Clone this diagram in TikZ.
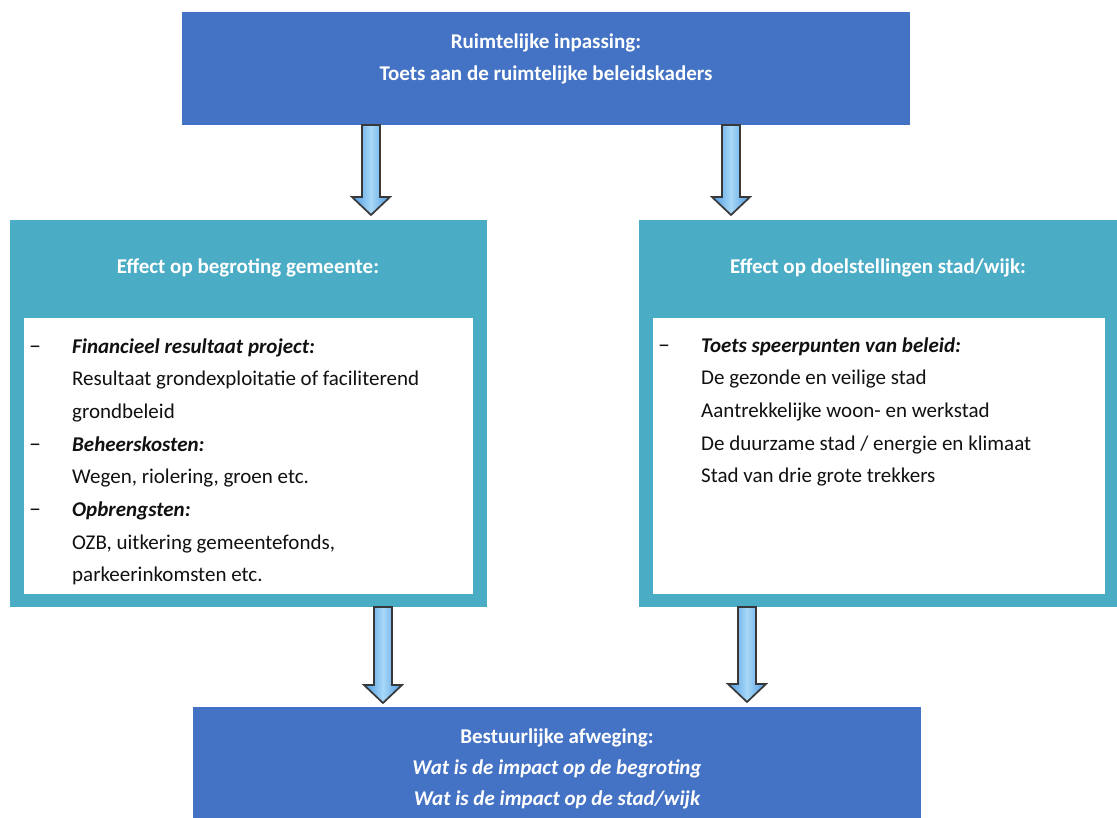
\documentclass[tikz,border=0pt]{standalone}
\usepackage{fontspec}
\setmainfont{Carlito}
\usetikzlibrary{calc}
\definecolor{dblue}{HTML}{4472C4}
\definecolor{tealbox}{HTML}{4BACC6}
\definecolor{arrowedge}{HTML}{383838}
\definecolor{arrowmid}{HTML}{A8D8F8}
\definecolor{arrowside}{HTML}{4A98E0}
\definecolor{txtdark}{HTML}{111111}
\newcommand\blkarrow[2]{%
  \path[blockarrow] let \p1=(#1), \p2=(#2) in
    (\x1-9pt,\y1) -- (\x1+9pt,\y1) -- (\x1+9pt,\y2+18pt) -- (\x1+19pt,\y2+18pt)
    -- (\x1,\y2) -- (\x1-19pt,\y2+18pt) -- (\x1-9pt,\y2+18pt) -- cycle;}
\tikzset{
  box/.style={draw=none, inner sep=0pt, outer sep=0pt, anchor=north west},
  bluebox/.style={box, fill=dblue},
  tealbg/.style={box, fill=tealbox},
  whitebg/.style={box, fill=white},
  hdr/.style={inner sep=0pt, anchor=base, text=white, font=\fontsize{21}{31}\selectfont\bfseries},
  hdrit/.style={hdr, font=\fontsize{21}{31}\selectfont\bfseries\itshape},
  itemdash/.style={inner sep=0pt, anchor=base west, text=txtdark, font=\fontsize{24}{32}\selectfont},
  itemhead/.style={inner sep=0pt, anchor=base west, text=txtdark, font=\fontsize{21}{32}\selectfont\bfseries\itshape},
  itemtxt/.style={inner sep=0pt, anchor=base west, text=txtdark, font=\fontsize{21}{32}\selectfont},
  blockarrow/.style={draw=arrowedge, line width=1.7pt, line join=miter,
    left color=arrowside, right color=arrowside, middle color=arrowmid},
}
\begin{document}
\begin{tikzpicture}[x=1pt,y=-1pt]
\useasboundingbox (0,0) rectangle (1117,817);
\fill[white] (0,0) rectangle (1117,817);

% boxes
\node[bluebox, minimum width=728pt, minimum height=113pt] (top) at (182,12) {};
\node[tealbg, minimum width=477pt, minimum height=387pt] (left) at (10,220) {};
\node[whitebg, minimum width=449pt, minimum height=276pt] (leftin) at (24,318) {};
\node[tealbg, minimum width=478pt, minimum height=387pt] (right) at (639,220) {};
\node[whitebg, minimum width=452pt, minimum height=276pt] (rightin) at (653,318) {};
\node[bluebox, minimum width=728pt, minimum height=112pt] (bottom) at (193,707) {};

% top texts
\node[hdr] (t1) at (546,48) {Ruimtelijke inpassing:};
\node[hdr] (t2) at (546,80) {Toets aan de ruimtelijke beleidskaders};

% headers
\node[hdr] (lh) at (248,273) {Effect op begroting gemeente:};
\node[hdr] (rh) at (878,273) {Effect op doelstellingen stad/wijk:};

% left list
\node[itemdash] (ld1) at (29,353) {–};
\node[itemhead] (lh1) at (72,353) {Financieel resultaat project:};
\node[itemtxt] (lt1) at (72,385.7) {Resultaat grondexploitatie of faciliterend};
\node[itemtxt] (lt2) at (72,418.4) {grondbeleid};
\node[itemdash] (ld2) at (29,451.1) {–};
\node[itemhead] (lh2) at (72,451.1) {Beheerskosten:};
\node[itemtxt] (lt3) at (72,483.8) {Wegen, riolering, groen etc.};
\node[itemdash] (ld3) at (29,516.5) {–};
\node[itemhead] (lh3) at (72,516.5) {Opbrengsten:};
\node[itemtxt] (lt4) at (72,549.2) {OZB, uitkering gemeentefonds,};
\node[itemtxt] (lt5) at (72,581.9) {parkeerinkomsten etc.};

% right list
\node[itemdash] (rd1) at (658,352) {–};
\node[itemhead] (rh1) at (701,352) {Toets speerpunten van beleid:};
\node[itemtxt] (rt1) at (701,384.7) {De gezonde en veilige stad};
\node[itemtxt] (rt2) at (701,417.4) {Aantrekkelijke woon- en werkstad};
\node[itemtxt] (rt3) at (701,450.1) {De duurzame stad / energie en klimaat};
\node[itemtxt] (rt4) at (701,482.8) {Stad van drie grote trekkers};

% bottom texts
\node[hdr] (b1) at (557,743) {Bestuurlijke afweging:};
\node[hdrit] (b2) at (557,774) {Wat is de impact op de begroting};
\node[hdrit] (b3) at (557,805) {Wat is de impact op de stad/wijk};

% arrow anchor columns
\coordinate (xa) at (371,0);
\coordinate (xb) at (731,0);
\coordinate (xc) at (383,0);
\coordinate (xd) at (747,0);
\coordinate (tipa) at (371,215);
\coordinate (tipb) at (731,215);
\coordinate (tipc) at (383,703);
\coordinate (tipd) at (747,702);

\blkarrow{xa |- top.south}{tipa}
\blkarrow{xb |- top.south}{tipb}
\blkarrow{xc |- left.south}{tipc}
\blkarrow{xd |- right.south}{tipd}
\end{tikzpicture}
\end{document}
